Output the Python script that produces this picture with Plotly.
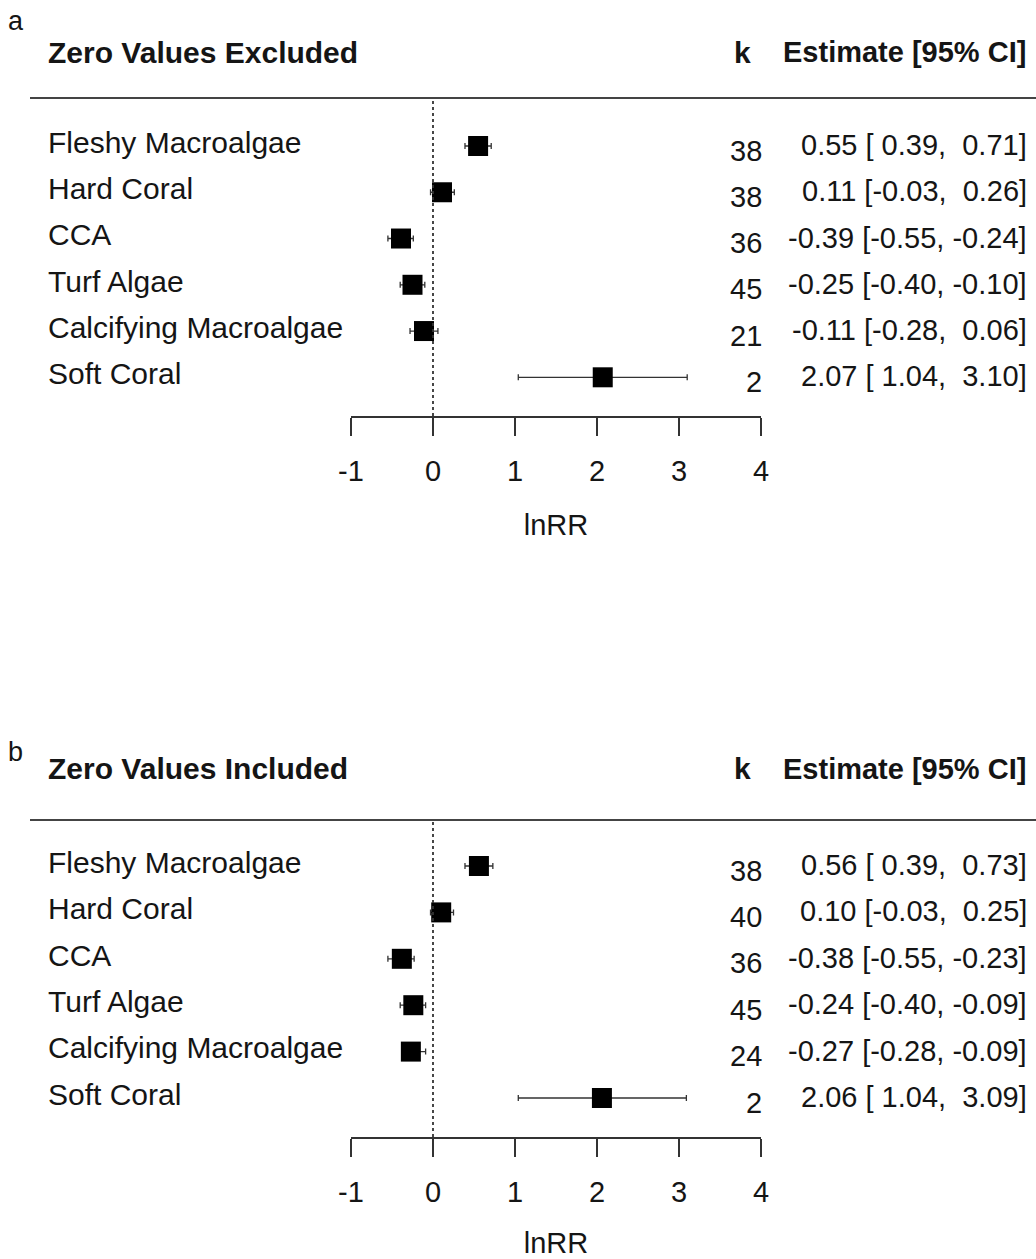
import plotly.graph_objects as go

# ---------------- data ----------------
categories = ["Fleshy Macroalgae", "Hard Coral", "CCA", "Turf Algae",
              "Calcifying Macroalgae", "Soft Coral"]

k_excl = [38, 38, 36, 45, 21, 2]
est_excl = [0.55, 0.11, -0.39, -0.25, -0.11, 2.07]
lo_excl = [0.39, -0.03, -0.55, -0.40, -0.28, 1.04]
hi_excl = [0.71, 0.26, -0.24, -0.10, 0.06, 3.10]

k_incl = [38, 40, 36, 45, 24, 2]
est_incl = [0.56, 0.10, -0.38, -0.24, -0.27, 2.06]
lo_incl = [0.39, -0.03, -0.55, -0.40, -0.28, 1.04]
hi_incl = [0.73, 0.25, -0.23, -0.09, -0.09, 3.09]

x_ticks = [-1, 0, 1, 2, 3, 4]
panel_titles = ["Zero Values Excluded", "Zero Values Included"]
panel_letters = ["a", "b"]
col_k = "k"
col_est = "Estimate [95% CI]"
x_title = "lnRR"

# ---------------- layout helpers ----------------
W, H = 1036, 1259
FONT = "Liberation Sans, Arial, Helvetica, sans-serif"
TXT = "#151515"
LINE = "#333333"
FS = 29
FS_LAB = 30


def py(p):
    return 1 - p / H


def pxx(p):
    return p / W


panels = [
    dict(top=98, axis=416, row0=146, step=46.26, title_y=52, letter_y=21,
         k=k_excl, est=est_excl, lo=lo_excl, hi=hi_excl),
    dict(top=820, axis=1137, row0=866, step=46.4, title_y=769, letter_y=752,
         k=k_incl, est=est_incl, lo=lo_incl, hi=hi_incl),
]


def fmt(e, l, h):
    s = f"{e:.2f} [{l:5.2f}, {h:5.2f}]"
    return s.replace(" ", "\u00a0")


fig = go.Figure()
annotations = []
shapes = []
layout_axes = {}

for i, p in enumerate(panels):
    xa = "x" if i == 0 else f"x{i+1}"
    ya = "y" if i == 0 else f"y{i+1}"
    xkey = "xaxis" if i == 0 else f"xaxis{i+1}"
    ykey = "yaxis" if i == 0 else f"yaxis{i+1}"
    rows = list(range(len(categories)))

    fig.add_trace(go.Scatter(
        x=p["est"], y=rows, xaxis=xa, yaxis=ya, mode="markers",
        marker=dict(symbol="square", size=20, color="black",
                    line=dict(width=0)),
        error_x=dict(type="data", symmetric=False,
                     array=[h - e for h, e in zip(p["hi"], p["est"])],
                     arrayminus=[e - l for e, l in zip(p["est"], p["lo"])],
                     color=LINE, thickness=1.3, width=3),
        hoverinfo="skip", showlegend=False,
    ))

    layout_axes[xkey] = dict(
        domain=[pxx(351), pxx(761)], range=[-1, 4], anchor=ya,
        tickvals=x_ticks, ticktext=[str(t) for t in x_ticks],
        ticks="outside", ticklen=18, tickwidth=1.5, tickcolor=LINE,
        showline=True, linecolor=LINE, linewidth=1.5,
        showgrid=False, zeroline=False, fixedrange=True, automargin=False,
        tickfont=dict(family=FONT, size=FS, color=TXT),
        ticklabelstandoff=10,
        title=dict(text=x_title, font=dict(family=FONT, size=FS, color=TXT),
                   standoff=29),
    )
    layout_axes[ykey] = dict(
        domain=[py(p["axis"]), py(p["top"])],
        range=[(p["axis"] - p["row0"]) / p["step"], (p["top"] - p["row0"]) / p["step"]],
        anchor=xa, visible=False, fixedrange=True, automargin=False,
    )

    # reference line at 0
    shapes.append(dict(type="line", xref=xa, yref=f"{ya} domain",
                       x0=0, x1=0, y0=0, y1=1,
                       line=dict(color=LINE, width=1.8, dash="dot")))
    # header rule
    shapes.append(dict(type="line", xref="paper", yref="paper",
                       x0=pxx(30), x1=1, y0=py(p["top"]), y1=py(p["top"]),
                       line=dict(color="#444444", width=2)))

    # headers
    annotations.append(dict(xref="paper", yref="paper", x=pxx(46), y=py(p["title_y"]),
                            xanchor="left", yanchor="middle", showarrow=False,
                            text=f"<b>{panel_titles[i]}</b>",
                            font=dict(family=FONT, size=FS_LAB, color=TXT)))
    annotations.append(dict(xref="paper", yref="paper", x=pxx(753), y=py(p["title_y"]),
                            xanchor="right", yanchor="middle", showarrow=False,
                            text=f"<b>{col_k}</b>",
                            font=dict(family=FONT, size=FS_LAB, color=TXT)))
    annotations.append(dict(xref="paper", yref="paper", x=pxx(1028), y=py(p["title_y"]),
                            xanchor="right", yanchor="middle", showarrow=False,
                            text=f"<b>{col_est}</b>",
                            font=dict(family=FONT, size=FS, color=TXT)))
    annotations.append(dict(xref="paper", yref="paper", x=pxx(6), y=py(p["letter_y"]),
                            xanchor="left", yanchor="middle", showarrow=False,
                            text=panel_letters[i],
                            font=dict(family=FONT, size=27, color=TXT)))

    for r, cat in enumerate(categories):
        annotations.append(dict(xref="paper", yref=ya, x=pxx(46), y=r - 0.08,
                                xanchor="left", yanchor="middle", showarrow=False,
                                text=cat, font=dict(family=FONT, size=FS_LAB, color=TXT)))
        annotations.append(dict(xref="paper", yref=ya, x=pxx(764), y=r + 0.1,
                                xanchor="right", yanchor="middle", showarrow=False,
                                text=str(p["k"][r]),
                                font=dict(family=FONT, size=FS, color=TXT)))
        annotations.append(dict(xref="paper", yref=ya, x=pxx(1029), y=r - 0.02,
                                xanchor="right", yanchor="middle", showarrow=False,
                                text=fmt(p["est"][r], p["lo"][r], p["hi"][r]),
                                font=dict(family=FONT, size=FS, color=TXT)))

fig.update_layout(
    width=W, height=H,
    margin=dict(l=0, r=0, t=0, b=0, pad=0, autoexpand=False),
    paper_bgcolor="white", plot_bgcolor="white",
    showlegend=False, annotations=annotations, shapes=shapes,
    **layout_axes,
)

fig.write_html("out.html", config={"displayModeBar": False})
